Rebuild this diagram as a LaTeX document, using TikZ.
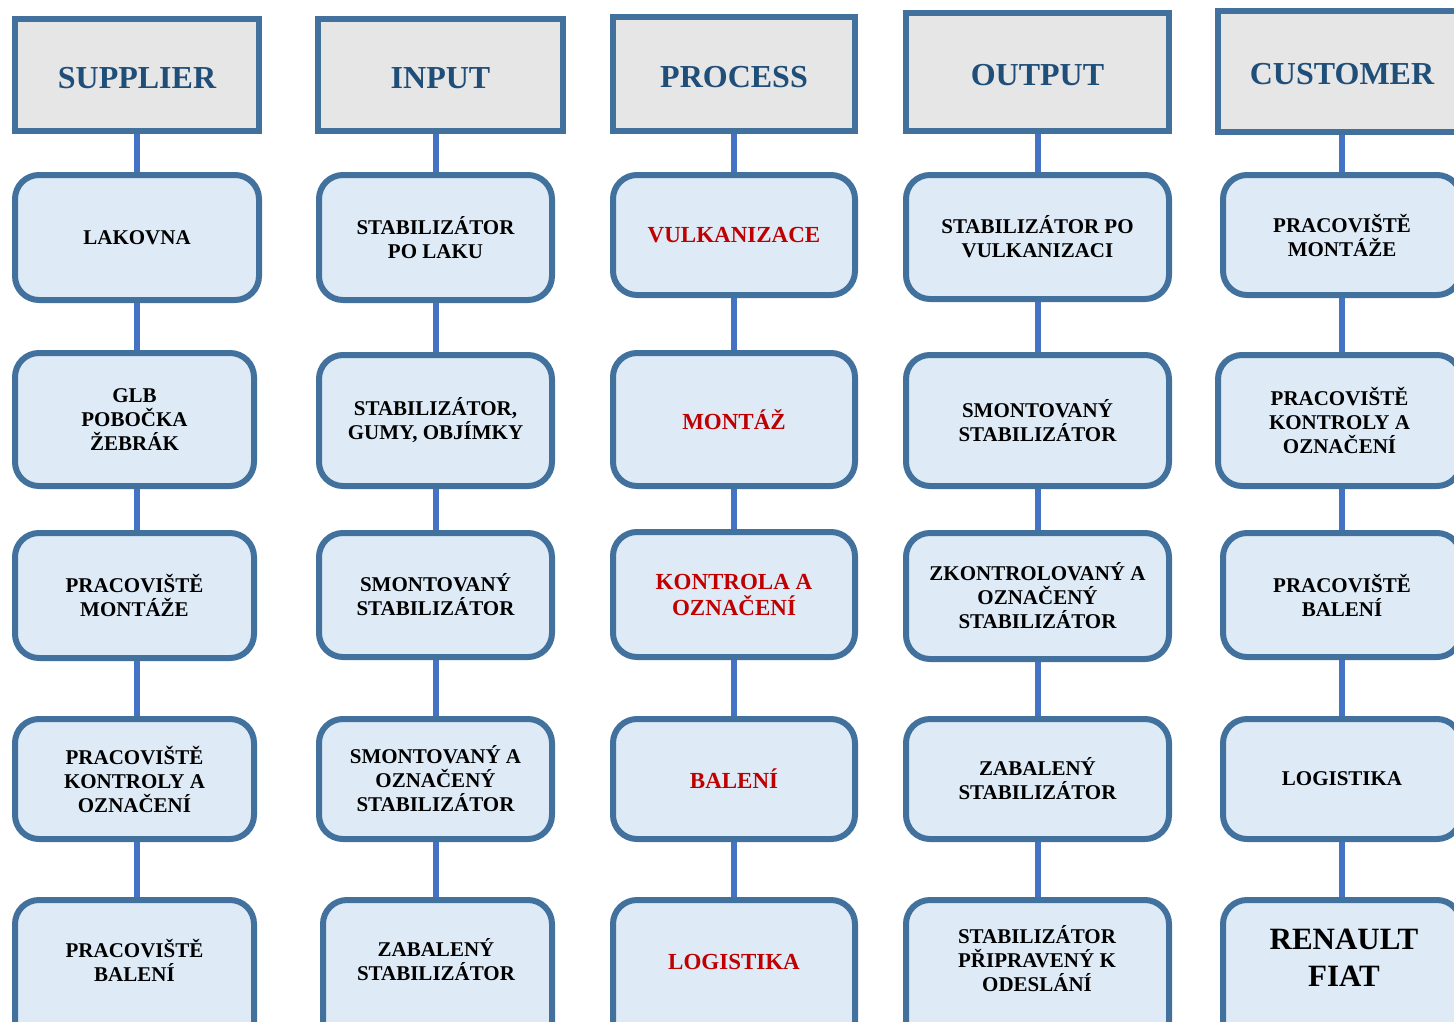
\documentclass[tikz,border=0pt]{standalone}
\usepackage{fontspec}
\setmainfont{Liberation Serif}
\definecolor{hdrf}{HTML}{E6E6E6}
\definecolor{hdrt}{HTML}{1F4E79}
\definecolor{boxb}{HTML}{41719C}
\definecolor{boxf}{HTML}{DEEBF7}
\definecolor{connc}{HTML}{4472C4}
\definecolor{redc}{HTML}{C00000}
\begin{document}
\begin{tikzpicture}[x=1pt,y=-1pt,
  hdr/.style={draw=boxb, fill=hdrf, line width=6pt, inner sep=0pt, rectangle, text=hdrt, text height=27pt, font=\fontsize{32}{36}\selectfont\bfseries},
  box/.style={draw=boxb, fill=boxf, line width=6pt, rounded corners=24pt, inner sep=0pt, align=center, font=\fontsize{21}{24}\selectfont\bfseries},
  proc/.style={box, text=redc, font=\fontsize{23}{26}\selectfont\bfseries},
  conn/.style={draw=connc, line width=6pt}]
\useasboundingbox (0,0) rectangle (1454,1021);
\clip (0,0) rectangle (1454,1021);
% column 1
\node[hdr, minimum width=244pt, minimum height=112pt] (h1) at (137,75) {SUPPLIER};
\node[box, minimum width=244pt, minimum height=125pt] (a1) at (137,237.5) {LAKOVNA};
\node[box, minimum width=239pt, minimum height=133pt] (a2) at (134.5,419.5) {GLB\\POBOČKA\\ŽEBRÁK};
\node[box, minimum width=239pt, minimum height=125pt] (a3) at (134.5,595.5) {PRACOVIŠTĚ\\MONTÁŽE};
\node[box, minimum width=239pt, minimum height=120pt] (a4) at (134.5,779) {PRACOVIŠTĚ\\KONTROLY A\\OZNAČENÍ};
\node[box, minimum width=239pt, minimum height=160pt] (a5) at (134.5,980) {};
\node[font=\fontsize{21}{24}\selectfont\bfseries, align=center, inner sep=0pt] (t5) at (134.5,960) {PRACOVIŠTĚ\\BALENÍ};
% column 2
\node[hdr, minimum width=245pt, minimum height=112pt] (h2) at (440.5,75) {INPUT};
\node[box, minimum width=233pt, minimum height=125pt] (b1) at (435.5,237.5) {STABILIZÁTOR\\PO LAKU};
\node[box, minimum width=233pt, minimum height=131pt] (b2) at (435.5,420.5) {STABILIZÁTOR,\\GUMY, OBJÍMKY};
\node[box, minimum width=233pt, minimum height=124pt] (b3) at (435.5,595) {SMONTOVANÝ\\STABILIZÁTOR};
\node[box, minimum width=233pt, minimum height=120pt] (b4) at (435.5,779) {SMONTOVANÝ A\\OZNAČENÝ\\STABILIZÁTOR};
\node[box, minimum width=229pt, minimum height=160pt] (b5) at (437.5,980) {};
\node[font=\fontsize{21}{24}\selectfont\bfseries, align=center, inner sep=0pt] (u5) at (436,960) {ZABALENÝ\\STABILIZÁTOR};
% column 3
\node[hdr, minimum width=242pt, minimum height=114pt] (h3) at (734,74) {PROCESS};
\node[proc, minimum width=242pt, minimum height=120pt] (c1) at (734,235) {VULKANIZACE};
\node[proc, minimum width=242pt, minimum height=133pt] (c2) at (734,419.5) {MONTÁŽ};
\node[proc, minimum width=242pt, minimum height=125pt] (c3) at (734,594.5) {KONTROLA A\\OZNAČENÍ};
\node[proc, minimum width=242pt, minimum height=120pt] (c4) at (734,779) {BALENÍ};
\node[box, minimum width=242pt, minimum height=160pt] (c5) at (734,980) {};
\node[font=\fontsize{23}{26}\selectfont\bfseries, text=redc, inner sep=0pt] (v5) at (734,962) {LOGISTIKA};
% column 4
\node[hdr, minimum width=263pt, minimum height=118pt] (h4) at (1037.5,72) {OUTPUT};
\node[box, minimum width=263pt, minimum height=124pt] (d1) at (1037.5,237) {STABILIZÁTOR PO\\VULKANIZACI};
\node[box, minimum width=263pt, minimum height=131pt] (d2) at (1037.5,420.5) {SMONTOVANÝ\\STABILIZÁTOR};
\node[box, minimum width=263pt, minimum height=126pt] (d3) at (1037.5,596) {ZKONTROLOVANÝ A\\OZNAČENÝ\\STABILIZÁTOR};
\node[box, minimum width=263pt, minimum height=120pt] (d4) at (1037.5,779) {ZABALENÝ\\STABILIZÁTOR};
\node[box, minimum width=263pt, minimum height=160pt] (d5) at (1037.5,980) {};
\node[font=\fontsize{21}{24}\selectfont\bfseries, align=center, inner sep=0pt] (w5) at (1037,959) {STABILIZÁTOR\\PŘIPRAVENÝ K\\ODESLÁNÍ};
% column 5
\node[hdr, minimum width=248pt, minimum height=121pt] (h5) at (1342,71.5) {CUSTOMER};
\node[box, minimum width=238pt, minimum height=120pt] (e1) at (1342,235) {PRACOVIŠTĚ\\MONTÁŽE};
\node[box, minimum width=243pt, minimum height=131pt] (e2) at (1339.5,420.5) {PRACOVIŠTĚ\\KONTROLY A\\OZNAČENÍ};
\node[box, minimum width=238pt, minimum height=124pt] (e3) at (1342,595) {PRACOVIŠTĚ\\BALENÍ};
\node[box, minimum width=238pt, minimum height=120pt] (e4) at (1342,779) {LOGISTIKA};
\node[box, minimum width=238pt, minimum height=160pt] (e5) at (1342,980) {};
\node[font=\fontsize{31}{37}\selectfont\bfseries, align=center, inner sep=0pt] (x5) at (1344,958) {RENAULT\\FIAT};
% connectors
\foreach \u/\v in {h1/a1,a1/a2,a2/a3,a3/a4,a4/a5}
  \draw[conn] (\u.south -| h1) -- (\v.north -| h1);
\foreach \u/\v in {h2/b1,b1/b2,b2/b3,b3/b4,b4/b5}
  \draw[conn] (\u.south -| b1) -- (\v.north -| b1);
\foreach \u/\v in {h3/c1,c1/c2,c2/c3,c3/c4,c4/c5}
  \draw[conn] (\u.south -| h3) -- (\v.north -| h3);
\foreach \u/\v in {h4/d1,d1/d2,d2/d3,d3/d4,d4/d5}
  \draw[conn] (\u.south -| h4) -- (\v.north -| h4);
\foreach \u/\v in {h5/e1,e1/e2,e2/e3,e3/e4,e4/e5}
  \draw[conn] (\u.south -| h5) -- (\v.north -| h5);
\end{tikzpicture}
\end{document}
